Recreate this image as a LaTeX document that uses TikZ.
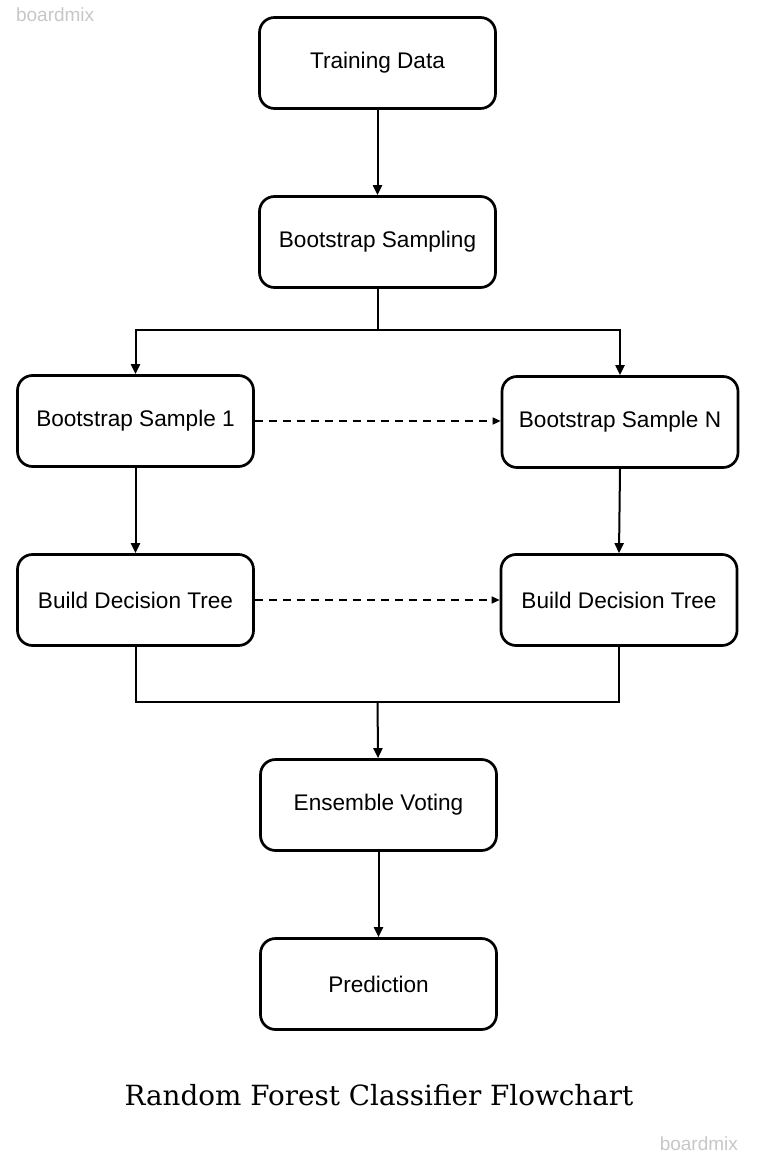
\documentclass[tikz,border=0pt]{standalone}
\usepackage{fontspec}
\setmainfont{Liberation Sans}
\newfontfamily\titlefont{DejaVu Serif}
\usetikzlibrary{arrows.meta}
\begin{document}
\begin{tikzpicture}[x=0.5pt, y=-0.5pt,
        stage/.style={draw, line width=1.35pt, rounded corners=7.5pt, minimum width=118pt, minimum height=45.5pt, font=\fontsize{11.3}{13}\selectfont, inner sep=0pt},
        flow/.style={line width=1pt, -{Triangle[length=5pt, width=4.5pt]}},
        link/.style={line width=1pt},
        skip/.style={line width=0.7pt, dash pattern=on 4pt off 3pt, -{Triangle[length=4pt, width=3.5pt]}},
        watermark/.style={text=black!22, font=\fontsize{9.5}{11}\selectfont}]
    \useasboundingbox (0, 0) rectangle (756, 1159);

    \node[watermark, anchor=west] (markA) at (9, 15) {boardmix};
    \node[watermark, anchor=east] (markB) at (745, 1144) {boardmix};

    \node[stage] (data) at (377.5, 63) {Training Data};
    \node[stage] (sampling) at (377.5, 242) {Bootstrap Sampling};
    \node[stage] (sampleA) at (135.5, 421) {Bootstrap Sample 1};
    \node[stage] (sampleN) at (620, 422) {Bootstrap Sample N};
    \node[stage] (treeA) at (135.5, 600) {Build Decision Tree};
    \node[stage] (treeN) at (619, 600) {Build Decision Tree};
    \node[stage] (voting) at (378.5, 805) {Ensemble Voting};
    \node[stage] (predict) at (378.5, 984) {Prediction};

    \node[font=\titlefont\fontsize{13.9}{16}\selectfont] (title) at (379, 1095) {Random Forest Classifier Flowchart};

    \coordinate (split) at (377.5, 330);
    \coordinate (merge) at (377.5, 702);

    \draw[flow] (data) -- (sampling);
    \draw[link] (sampling) -- (split);
    \draw[flow] (split) -| (sampleA);
    \draw[flow] (split) -| (sampleN);

    \draw[skip] (sampleA) -- (sampleN.west |- sampleA.east);
    \draw[skip] (treeA) -- (treeN);

    \draw[flow] (sampleA) -- (treeA);
    \draw[flow] (sampleN.south) -- (treeN.north);

    \draw[link] (treeA) |- (merge) -| (treeN);
    \draw[flow] (merge) -- (voting);
    \draw[flow] (voting) -- (predict);
\end{tikzpicture}
\end{document}
